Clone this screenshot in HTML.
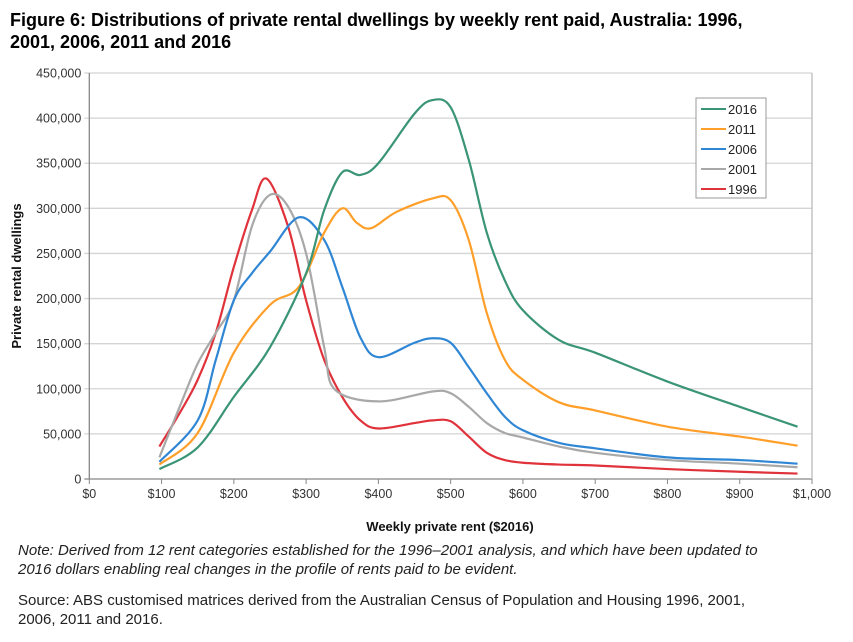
<!DOCTYPE html>
<html><head><meta charset="utf-8"><style>
body{margin:0;width:853px;height:642px;background:#fff;font-family:"Liberation Sans",Arial,sans-serif;overflow:hidden;position:relative}
.t{position:absolute;left:10px;top:9px;font-weight:bold;font-size:18px;line-height:22px;color:#000}
.n{position:absolute;left:18px;font-size:15px;color:#222;line-height:19px}
</style></head><body>
<div class="t">Figure 6: Distributions of private rental dwellings by weekly rent paid, Australia: 1996,<br>2001, 2006, 2011 and 2016</div>
<svg id="c" width="853" height="642" style="position:absolute;left:0;top:0"></svg>
<div class="n" style="top:541px;font-style:italic">Note: Derived from 12 rent categories established for the 1996–2001 analysis, and which have been updated to<br>2016 dollars enabling real changes in the profile of rents paid to be evident.</div>
<div class="n" style="top:591px">Source: ABS customised matrices derived from the Australian Census of Population and Housing 1996, 2001,<br>2006, 2011 and 2016.</div>
<script>
const yTicks=[0,50000,100000,150000,200000,250000,300000,350000,400000,450000];
const xTicks=[0,100,200,300,400,500,600,700,800,900,1000];
const xTickLabels=["$0","$100","$200","$300","$400","$500","$600","$700","$800","$900","$1,000"];
const seriesNames=["2016","2011","2006","2001","1996"];
const seriesColors=["#3a9476","#ff9f2a","#2f86d4","#a8a8a8","#e0323a"];
const x2016=[97,150,200,250,300,325,350,375,400,450,475,500,525,550,575,600,650,700,800,900,980];
const y2016=[11000,35000,91000,146000,228000,298000,340000,337000,350000,405000,420000,412000,354000,273000,220000,187000,154000,140000,108000,80000,58000];
const x2011=[97,150,200,250,290,325,350,370,390,425,475,500,525,550,575,600,650,700,800,900,980];
const y2011=[16000,51000,140000,193000,213000,273000,300000,284000,278000,296000,311000,309000,265000,184000,132000,110000,85000,76000,58000,47000,37000];
const x2006=[97,150,175,200,225,250,290,325,350,375,400,450,475,500,525,550,575,600,650,700,800,900,980];
const y2006=[19000,65000,132000,198000,228000,252000,290000,265000,213000,157000,135000,151000,156000,151000,124000,95000,69000,54000,40000,34000,24000,21000,17000];
const x2001=[97,125,150,175,200,225,250,275,300,325,340,400,475,500,525,550,575,600,650,700,800,900,980];
const y2001=[24000,80000,128000,162000,198000,280000,315000,302000,250000,146000,99000,86000,97000,95000,80000,62000,51000,46000,36000,29000,21000,17000,13000];
const x1996=[97,125,150,175,200,225,245,275,300,325,350,375,400,450,475,500,525,550,575,600,650,700,800,900,980];
const y1996=[36000,73000,110000,162000,235000,298000,333000,280000,198000,132000,91000,65000,56000,62000,65000,64000,47000,29000,21000,18000,16000,15000,11000,8000,6000];
const XS=[x2016,x2011,x2006,x2001,x1996], YS=[y2016,y2011,y2006,y2001,y1996];
const L=89.3,R=812,T=73,B=479;
const sx=v=>L+(R-L)*v/1000, sy=v=>B-(B-T)*v/450000;
const svg=document.getElementById('c'),NS='http://www.w3.org/2000/svg';
function mk(t,a,p){const e=document.createElementNS(NS,t);for(const k in a)e.setAttribute(k,a[k]);(p||svg).appendChild(e);return e;}
yTicks.forEach((v,i)=>{
 const g=mk('line',{x1:L-5,x2:R,y1:sy(v),y2:sy(v),stroke:i==0?'#888':'#d4d4d4','stroke-width':1.3});
 
 
 const t=mk('text',{x:L-8,y:sy(v)+4.5,'text-anchor':'end','font-size':12.5,fill:'#333'});t.textContent=v.toLocaleString('en-US');
 
 
});
mk('line',{x1:L,x2:L,y1:T,y2:B,stroke:'#888','stroke-width':1.3});
mk('line',{x1:R,x2:R,y1:T,y2:B,stroke:'#bbb','stroke-width':1.3});
xTicks.forEach((v,i)=>{
 mk('line',{x1:sx(v),x2:sx(v),y1:B,y2:B+5,stroke:'#888'});
 const t=mk('text',{x:sx(v),y:B+19,'text-anchor':'middle','font-size':12.5,fill:'#333'});t.textContent=xTickLabels[i];
 
 
});
const yt=mk('text',{transform:'translate(21,276) rotate(-90)','text-anchor':'middle','font-size':13,'font-weight':'bold',fill:'#111'});yt.textContent='Private rental dwellings';


const xt=mk('text',{x:450,y:531,'text-anchor':'middle','font-size':13,'font-weight':'bold',fill:'#111'});xt.textContent='Weekly private rent ($2016)';


function path(xs,ys){const p=xs.map((x,i)=>[sx(x),sy(ys[i])]);let d='M'+p[0][0]+','+p[0][1];
 for(let i=0;i<p.length-1;i++){const p0=p[Math.max(0,i-1)],p1=p[i],p2=p[i+1],p3=p[Math.min(p.length-1,i+2)];
 d+=` C${p1[0]+(p2[0]-p0[0])/6},${p1[1]+(p2[1]-p0[1])/6} ${p2[0]-(p3[0]-p1[0])/6},${p2[1]-(p3[1]-p1[1])/6} ${p2[0]},${p2[1]}`;}return d;}
for(let s=4;s>=0;s--){const e=mk('path',{d:path(XS[s],YS[s]),fill:'none',stroke:seriesColors[s],'stroke-width':2.2});
 
 }
const lg=mk('g',{});


mk('rect',{x:696,y:98,width:70,height:100,fill:'#fff',stroke:'#999'},lg);
seriesNames.forEach((n,i)=>{const y=109+i*20;
 mk('line',{x1:701,x2:726,y1:y,y2:y,stroke:seriesColors[i],'stroke-width':2},lg);
 const t=mk('text',{x:728,y:y+5,'font-size':13,fill:'#222'},lg);t.textContent=n;
 
 });
</script>
</body></html>
